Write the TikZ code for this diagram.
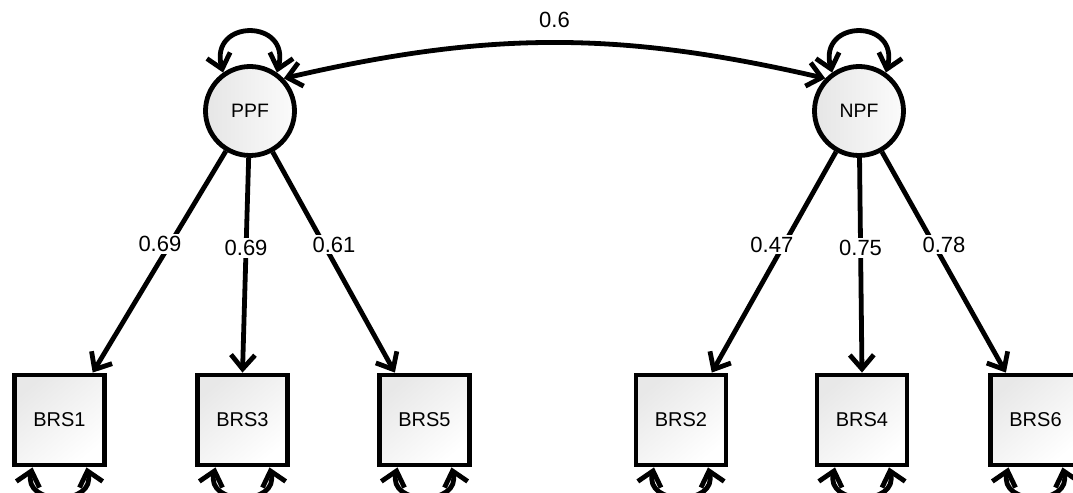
\documentclass[tikz,border=0pt]{standalone}
\usepackage{fontspec}
\setmainfont{Liberation Sans}
\usetikzlibrary{arrows.meta}

\begin{document}
\begin{tikzpicture}
[x=0.5pt, y=0.5pt, line width=2.4pt, >={Straight Barb[length=7pt,width=12pt]},
  latent/.style = { draw, circle, minimum size = 44.5pt, inner sep = 0pt,
                    left color = gray!20, right color = gray!3,
                    font = \fontsize{9.7}{11}\selectfont },
  observed/.style = { draw, rectangle, minimum size = 45pt, inner sep = 0pt,
                      top color = gray!18, bottom color = white, shading angle = 40,
                      font = \fontsize{10}{11}\selectfont },
  weight/.style = { fill = white, inner sep = 1pt, font = \fontsize{11}{12}\selectfont }
]

\useasboundingbox (0,0) rectangle (1073,493);

% Factors:
\node[latent] (PPF) at (250,382) {PPF};
\node[latent] (NPF) at (859,382) {NPF};

% Items:
\node[observed] (BRS1) at (59.5,73)   {BRS1};
\node[observed] (BRS3) at (242.5,73)  {BRS3};
\node[observed] (BRS5) at (424.5,73)  {BRS5};
\node[observed] (BRS2) at (681,73)    {BRS2};
\node[observed] (BRS4) at (862,73)    {BRS4};
\node[observed] (BRS6) at (1035.5,73) {BRS6};

% Loadings:
\draw[->] (PPF) -- (BRS1.55)  node[weight, pos=0.42, xshift=-5pt] {0.69};
\draw[->] (PPF) -- (BRS3.north) node[weight, pos=0.42] {0.69};
\draw[->] (PPF) -- (BRS5.122) node[weight, pos=0.42, xshift=5pt] {0.61};
\draw[->] (NPF) -- (BRS2.57)  node[weight, pos=0.42, xshift=-6pt] {0.47};
\draw[->] (NPF) -- (BRS4.north) node[weight, pos=0.42] {0.75};
\draw[->] (NPF) -- (BRS6.122) node[weight, pos=0.42, xshift=5pt] {0.78};

% Covariance between the factors:
\draw[<->] (PPF.44) to[out=13, in=167]
  node[midway, above = 3pt, font = \fontsize{11}{12}\selectfont] {0.6} (NPF.136);

% Variances of the factors:
\draw[<->] (PPF.125) .. controls +(105:56) and +(75:56) .. (PPF.55);
\draw[<->] (NPF.125) .. controls +(105:56) and +(75:56) .. (NPF.55);

% Residuals of the items:
\foreach \item in {BRS1,BRS3,BRS5,BRS2,BRS4,BRS6}
  \draw[<->] ([xshift=-13.5pt]\item.south) .. controls +(-105:40) and +(-75:40)
    .. ([xshift=13.5pt]\item.south);
\end{tikzpicture}
\end{document}
